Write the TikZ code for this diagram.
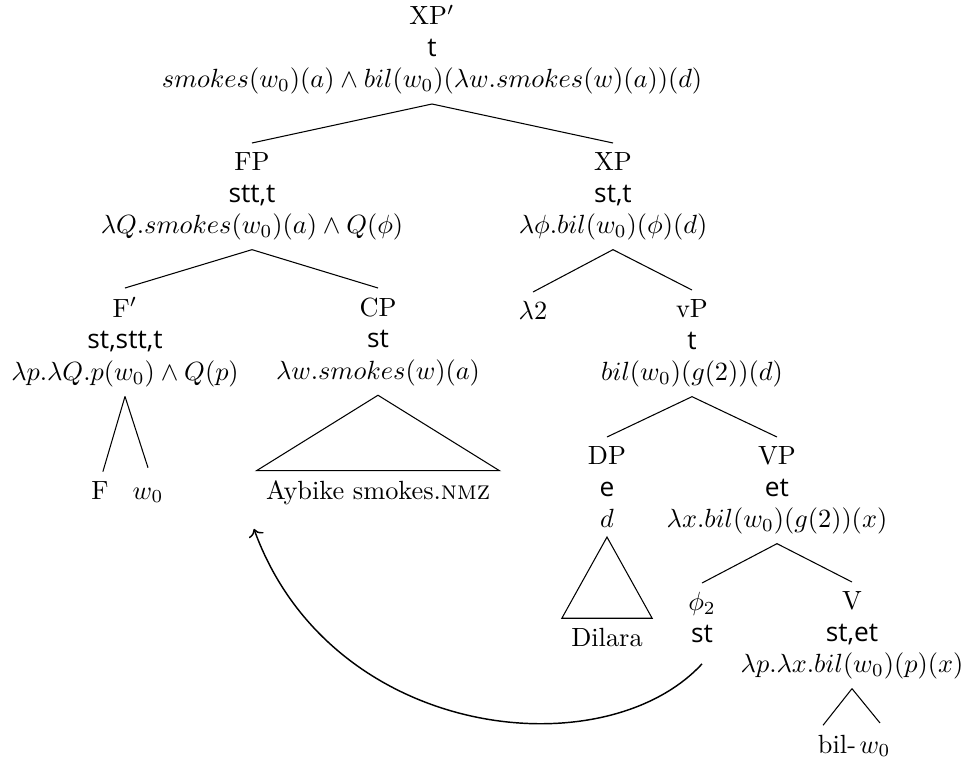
\documentclass[tikz,border=0pt]{standalone}
\usepackage{fontspec}
\newfontfamily\tyfam{Open Sans}
\newcommand{\tyf}[1]{{\tyfam #1}}
\usetikzlibrary{arrows.meta}
\begin{document}
\begin{tikzpicture}[x=0.38pt,y=-0.38pt,
  tn/.style={align=center,inner sep=3.4pt,font=\fontsize{10}{12}\selectfont},
  lf/.style={inner sep=3.4pt,font=\fontsize{10}{12}\selectfont,anchor=base},
  edge/.style={line width=0.4pt},
  mv/.style={->,line width=0.55pt}]
\useasboundingbox (0,0) rectangle (964,757);
% tree nodes
\node[tn,anchor=south] (xpp) at (432,104) {XP$'$\\\tyf{t}\\$smokes(w_0)(a)\wedge bil(w_0)(\lambda w.smokes(w)(a))(d)$};
\node[tn,anchor=north] (fp) at (252,143) {FP\\\tyf{stt,t}\\$\lambda Q.smokes(w_0)(a)\wedge Q(\phi)$};
\node[tn,anchor=north] (xp) at (613,143) {XP\\\tyf{st,t}\\$\lambda\phi.bil(w_0)(\phi)(d)$};
\node[tn,anchor=north] (fbar) at (125,288) {F$'$\\\tyf{st,stt,t}\\$\lambda p.\lambda Q.p(w_0)\wedge Q(p)$};
\node[tn,anchor=north] (cp) at (378,288) {CP\\\tyf{st}\\$\lambda w.smokes(w)(a)$};
\node[tn,anchor=north] (lam) at (533,292) {$\lambda2$};
\node[tn,anchor=north] (vp) at (692,290) {vP\\\tyf{t}\\$bil(w_0)(g(2))(d)$};
\node[lf] (f) at (100,499) {F};
\node[lf] (w0a) at (148,499) {$w_0$};
\node[lf] (ay) at (378,499) {Aybike smokes.\textsc{nmz}};
\node[tn,anchor=north] (dp) at (607,437) {DP\\\tyf{e}\\$d$};
\node[tn,anchor=north] (vpb) at (777,437) {VP\\\tyf{et}\\$\lambda x.bil(w_0)(g(2))(x)$};
\node[lf] (dil) at (607,646) {Dilara};
\node[tn,anchor=north] (phi) at (702,583) {$\phi_2$\\\tyf{st}};
\node[tn,anchor=north] (v) at (852,582) {V\\\tyf{st,et}\\$\lambda p.\lambda x.bil(w_0)(p)(x)$};
\node[lf] (bil) at (837,753) {bil-};
\node[lf] (w0b) at (875,753) {$w_0$};
% edges
\draw[edge] (xpp.south) -- (fp.north);
\draw[edge] (xpp.south) -- (xp.north);
\draw[edge] (fp.south) -- (fbar.north);
\draw[edge] (fp.south) -- (cp.north);
\draw[edge] (xp.south) -- (lam.north);
\draw[edge] (xp.south) -- (vp.north);
\draw[edge] (fbar.south) -- ([xshift=1.1pt]f.north);
\draw[edge] (fbar.south) -- ([yshift=4pt]w0a.north);
\draw[edge] (cp.south) -- (ay.north west) -- (ay.north east) -- cycle;
\draw[edge] (vp.south) -- (dp.north);
\draw[edge] (vp.south) -- (vpb.north);
\draw[edge] (dp.south) -- (dil.north west) -- (dil.north east) -- cycle;
\draw[edge] (vpb.south) -- (phi.north);
\draw[edge] (vpb.south) -- (v.north);
\draw[edge] (v.south) -- ([xshift=-5.3pt]bil.north);
\draw[edge] (v.south) -- ([xshift=1.9pt,yshift=3.5pt]w0b.north);
% movement arrow
\draw[mv] ([yshift=-4.5pt]phi.south) .. controls +(-98,106) and +(77,212) .. ([xshift=-1pt,yshift=-5.7pt]ay.south west);
\end{tikzpicture}
\end{document}
